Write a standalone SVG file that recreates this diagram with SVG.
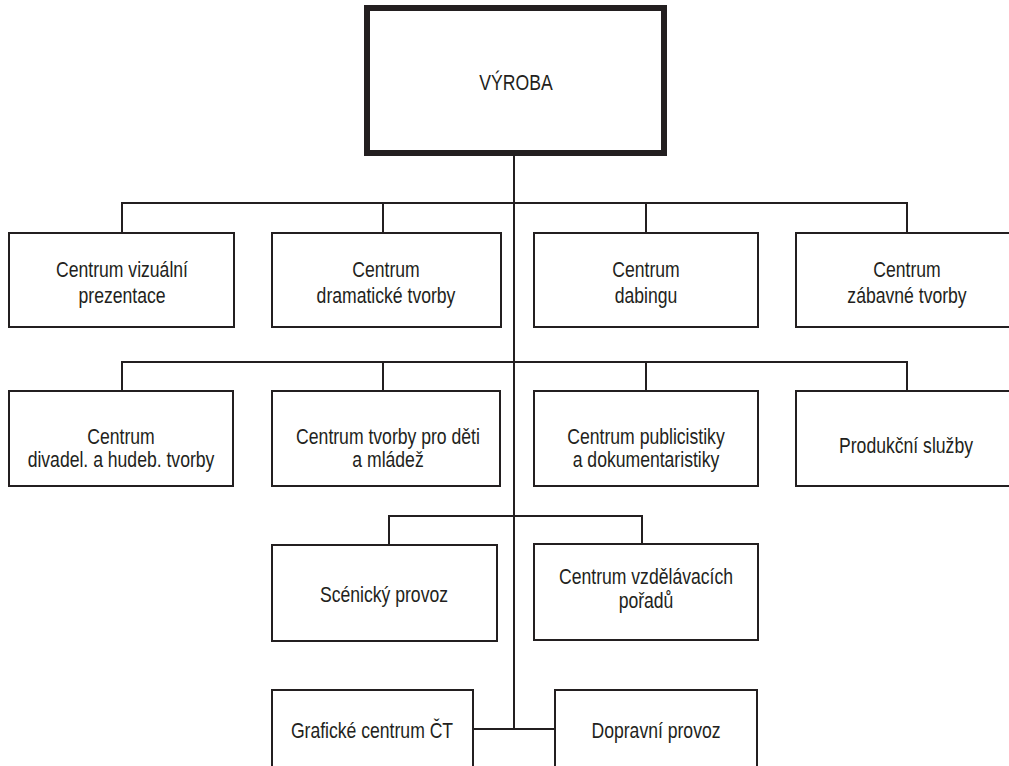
<svg xmlns="http://www.w3.org/2000/svg" width="1009" height="766" viewBox="0 0 1009 766">
<style>
.box{fill:#fff;stroke:#231f20;stroke-width:2}
.top{fill:#fff;stroke:#231f20;stroke-width:6}
.ln{fill:none;stroke:#231f20;stroke-width:2}
text{font-family:"Liberation Sans",Arial,sans-serif;font-size:22px;fill:#231f20;text-anchor:middle}
</style>
<rect width="1009" height="766" fill="#fff"/>
<g id="connectors">
<path class="ln" d="M514 156V729"/>
<path class="ln" d="M122 232V203H907V232M383 203V232M646 203V232"/>
<path class="ln" d="M122 391V362H907V391M383 362V391M646 362V391"/>
<path class="ln" d="M389 545V516H642V544"/>
<path class="ln" d="M473 729H555"/>
</g>
<g id="vyroba"><rect class="top" x="367" y="8" width="297" height="145"/><text transform="matrix(0.8 0 0 1 516 90)">VÝROBA</text></g>
<g id="n-vizualni"><rect class="box" x="9" y="233" width="225" height="94"/><text transform="matrix(0.8 0 0 1 122 277)">Centrum vizuální</text><text transform="matrix(0.8 0 0 1 122 303)">prezentace</text></g>
<g id="n-dramaticke"><rect class="box" x="272" y="233" width="229" height="94"/><text transform="matrix(0.8 0 0 1 386 277)">Centrum</text><text transform="matrix(0.8 0 0 1 386 303)">dramatické tvorby</text></g>
<g id="n-dabing"><rect class="box" x="534" y="233" width="224" height="94"/><text transform="matrix(0.8 0 0 1 646 277)">Centrum</text><text transform="matrix(0.8 0 0 1 646 303)">dabingu</text></g>
<g id="n-zabavne"><rect class="box" x="796" y="233" width="240" height="94"/><text transform="matrix(0.8 0 0 1 907 277)">Centrum</text><text transform="matrix(0.8 0 0 1 907 303)">zábavné tvorby</text></g>
<g id="n-divadel"><rect class="box" x="9" y="391" width="224" height="95"/><text transform="matrix(0.8 0 0 1 121 444)">Centrum</text><text transform="matrix(0.8 0 0 1 121 467)">divadel. a hudeb. tvorby</text></g>
<g id="n-deti"><rect class="box" x="272" y="391" width="228" height="95"/><text transform="matrix(0.8 0 0 1 388 444)">Centrum tvorby pro děti</text><text transform="matrix(0.8 0 0 1 388 467)">a mládež</text></g>
<g id="n-publicistika"><rect class="box" x="534" y="391" width="224" height="95"/><text transform="matrix(0.8 0 0 1 646 444)">Centrum publicistiky</text><text transform="matrix(0.8 0 0 1 646 467)">a dokumentaristiky</text></g>
<g id="n-produkcni"><rect class="box" x="796" y="391" width="240" height="95"/><text transform="matrix(0.8 0 0 1 906 453)">Produkční služby</text></g>
<g id="n-scenicky"><rect class="box" x="272" y="545" width="225" height="96"/><text transform="matrix(0.8 0 0 1 384 602)">Scénický provoz</text></g>
<g id="n-vzdelavaci"><rect class="box" x="534" y="544" width="224" height="96"/><text transform="matrix(0.8 0 0 1 646 584)">Centrum vzdělávacích</text><text transform="matrix(0.8 0 0 1 646 608)">pořadů</text></g>
<g id="n-graficke"><rect class="box" x="272" y="690" width="201" height="100"/><text transform="matrix(0.8 0 0 1 372 738)">Grafické centrum ČT</text></g>
<g id="n-dopravni"><rect class="box" x="555" y="690" width="202" height="100"/><text transform="matrix(0.8 0 0 1 656 738)">Dopravní provoz</text></g>
</svg>
